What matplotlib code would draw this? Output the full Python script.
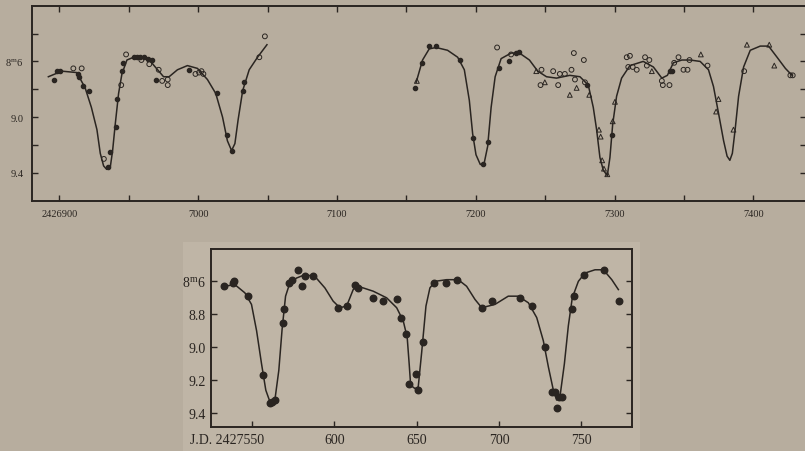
import matplotlib
matplotlib.use("Agg")
import matplotlib.pyplot as plt
from matplotlib.patches import Rectangle
from matplotlib.transforms import ScaledTranslation

plt.rcParams['font.family'] = ['Liberation Serif', 'DejaVu Serif']
plt.rcParams['mathtext.fontset'] = 'custom'
plt.rcParams['mathtext.rm'] = 'Liberation Serif'

# ---------------- top panel data (J.D. 2426000 + ...) ----------------
top_curve1_x = [6892, 6901.7, 6912.5, 6918.5, 6923, 6927, 6929.4, 6931.8, 6934, 6936.6,
                6938.3, 6940.2, 6942.6, 6945, 6948.6, 6953.4, 6964, 6969, 6975, 6979,
                6985, 6992.2, 6999.4, 7006.6, 7012.6, 7017.5, 7021, 7024, 7026.4, 7028.7,
                7032, 7036.7, 7042.7, 7049.5]
top_curve1_y = [8.71, 8.67, 8.68, 8.79, 8.93, 9.09, 9.26, 9.35, 9.375, 9.36,
                9.24, 9.05, 8.83, 8.69, 8.59, 8.57, 8.58, 8.64, 8.71, 8.71,
                8.66, 8.63, 8.65, 8.73, 8.83, 9.00, 9.17, 9.24, 9.19, 9.02,
                8.81, 8.66, 8.57, 8.48]

top_curve2_x = [7157, 7161.6, 7166.4, 7171.3, 7179.6, 7186.9, 7191.7, 7195.3, 7197.7, 7200.1,
                7203.2, 7206, 7208.5, 7211, 7213.9, 7218.2, 7225.4, 7231.4, 7238.6, 7244.6,
                7250.9, 7258.1, 7267.7, 7275, 7281, 7284.6, 7287, 7289.4, 7291.8, 7294.7,
                7296.6, 7298.6, 7301.4, 7305, 7311, 7320.6, 7327.9, 7334, 7338, 7342.3,
                7348.4, 7354.4, 7361.6, 7367.6, 7371.2, 7374.8, 7378.5, 7381, 7383, 7384.8,
                7386.8, 7389.3, 7392.9, 7397.7, 7404.9, 7410.9, 7417, 7423, 7427.8]
top_curve2_y = [8.75, 8.59, 8.51, 8.50, 8.52, 8.57, 8.66, 8.88, 9.12, 9.27,
                9.34, 9.33, 9.21, 8.93, 8.71, 8.58, 8.54, 8.54, 8.59, 8.67,
                8.71, 8.72, 8.70, 8.71, 8.77, 8.93, 9.09, 9.29, 9.38, 9.42,
                9.29, 9.05, 8.85, 8.72, 8.63, 8.60, 8.64, 8.72, 8.70, 8.61,
                8.59, 8.59, 8.60, 8.66, 8.78, 8.97, 9.17, 9.28, 9.31, 9.26,
                9.09, 8.85, 8.64, 8.52, 8.49, 8.49, 8.57, 8.65, 8.70]

top_dot_x = [6896.4, 6898, 6900.5, 6913, 6914, 6917, 6921, 6935, 6936.6, 6940.7,
             6941.4, 6945, 6946, 6953.4, 6955.8, 6958.2, 6960.6, 6964, 6966.6, 6969.5,
             6993.4, 7013.4, 7020.6, 7024.2, 7032, 7033,
             7155.8, 7161, 7166.4, 7171.3, 7188.6, 7197.7, 7205, 7209, 7216.5, 7223.7,
             7229, 7231.4, 7279.8, 7297.8, 7340, 7341.2]
top_dot_y = [8.73, 8.67, 8.67, 8.69, 8.71, 8.78, 8.81, 9.36, 9.25, 9.07,
             8.87, 8.67, 8.61, 8.57, 8.57, 8.57, 8.57, 8.58, 8.59, 8.73,
             8.66, 8.83, 9.13, 9.24, 8.81, 8.75,
             8.79, 8.61, 8.49, 8.49, 8.59, 9.15, 9.34, 9.18, 8.65, 8.60,
             8.54, 8.53, 8.77, 9.13, 8.67, 8.67]

top_open_x = [6910, 6916, 6932, 6944.5, 6948, 6959, 6964.7, 6971.5, 6974, 6978,
              6978, 6998, 7000.6, 7002.3, 7003.7, 7044, 7048,
              7215.3, 7225.4, 7247.3, 7246.6, 7255.7, 7259.3, 7260.5, 7264.1, 7268.9,
              7270.6, 7277.8, 7271.4, 7278.6, 7308.7, 7311, 7309.8, 7313, 7315.9,
              7321.9, 7325, 7323.2, 7334, 7334.7, 7339.5, 7342.9, 7346, 7349.6,
              7352.5, 7353.9, 7366.9, 7393.3, 7426.6, 7428.3]
top_open_y = [8.65, 8.65, 9.30, 8.77, 8.55, 8.59, 8.62, 8.66, 8.74, 8.73,
              8.77, 8.69, 8.68, 8.67, 8.69, 8.57, 8.42,
              8.50, 8.55, 8.66, 8.77, 8.67, 8.77, 8.69, 8.69, 8.66,
              8.54, 8.59, 8.73, 8.75, 8.57, 8.56, 8.64, 8.64, 8.66,
              8.57, 8.59, 8.63, 8.74, 8.77, 8.77, 8.61, 8.57, 8.66,
              8.66, 8.59, 8.63, 8.67, 8.70, 8.70]

top_tri_x = [7157.5, 7243.5, 7249.7, 7267.7, 7272.6, 7281.7, 7288.7, 7289.9, 7291, 7292.3,
             7294.7, 7298.6, 7300.2, 7326.8, 7362.1, 7374.8, 7373.1, 7385.6, 7395.3, 7411.4,
             7415]
top_tri_y = [8.74, 8.67, 8.75, 8.84, 8.79, 8.84, 9.09, 9.14, 9.31, 9.37,
             9.41, 9.03, 8.89, 8.67, 8.55, 8.87, 8.96, 9.09, 8.48, 8.48,
             8.63]

top_xticks = [6900, 7000, 7100, 7200, 7300, 7400]
top_xticklabels = ['2426900', '7000', '7100', '7200', '7300', '7400']
top_yticks = [8.6, 9.0, 9.4]
top_yticklabels = [r'8$^{\rm m}$6', '9.0', '9.4']

# ---------------- bottom panel data (J.D. 2427000 + ...) ----------------
bot_x = [533, 538.1, 539, 547.2, 556.7, 560.8, 562.2, 563.8, 568.5, 569.3,
         572.3, 574, 577.6, 580.4, 582, 587.1, 602.3, 607.4, 612.4, 614.4,
         623.2, 629.3, 638.1, 640.4, 643.4, 645.4, 649.5, 650.5, 653.6, 660.6,
         667.6, 674.3, 689.5, 695.5, 712.7, 719.8, 728, 732, 734, 735,
         736.4, 738.5, 744.5, 745.7, 751.8, 763.8, 772.9]
bot_y = [8.63, 8.61, 8.60, 8.69, 9.17, 9.34, 9.33, 9.32, 8.85, 8.77,
         8.61, 8.59, 8.53, 8.63, 8.57, 8.57, 8.76, 8.75, 8.62, 8.64,
         8.70, 8.72, 8.71, 8.82, 8.92, 9.22, 9.16, 9.26, 8.97, 8.61,
         8.61, 8.59, 8.76, 8.72, 8.70, 8.75, 9.00, 9.27, 9.27, 9.37,
         9.30, 9.30, 8.77, 8.69, 8.56, 8.53, 8.72]

bot_curve_x = [533, 539.5, 545.6, 549.6, 552.7, 555.7, 558.3, 560.8, 563.8, 566.2,
               568.2, 570.3, 572.9, 577, 582, 588.1, 594.2, 599.2, 603.3, 607.4,
               611.4, 614.4, 623.6, 631.7, 637.8, 641.8, 644.2, 645.4, 646.3, 648.9,
               650.9, 653, 655.6, 658, 661.1, 668.2, 675.2, 680.3, 685.4, 689.5,
               697.5, 705.6, 711.7, 717.8, 722.9, 726.9, 730, 733, 735, 737,
               739.7, 742.1, 744.5, 748.2, 752.2, 758.3, 763.4, 768.5, 772.5]
bot_curve_y = [8.63, 8.62, 8.67, 8.74, 8.90, 9.10, 9.26, 9.33, 9.32, 9.14,
               8.89, 8.69, 8.61, 8.58, 8.56, 8.57, 8.64, 8.72, 8.76, 8.75,
               8.65, 8.63, 8.66, 8.70, 8.76, 8.84, 8.94, 9.10, 9.23, 9.25,
               9.24, 9.03, 8.75, 8.64, 8.60, 8.59, 8.59, 8.63, 8.71, 8.76,
               8.74, 8.69, 8.69, 8.73, 8.82, 8.96, 9.12, 9.26, 9.32, 9.30,
               9.10, 8.87, 8.70, 8.60, 8.55, 8.53, 8.53, 8.59, 8.65]

bot_xticks = [550, 600, 650, 700, 750]
bot_xticklabels = ['J.D. 2427550', '600', '650', '700', '750']
bot_yticks = [8.6, 8.8, 9.0, 9.2, 9.4]
bot_yticklabels = [r'8$^{\rm m}$6', '8.8', '9.0', '9.2', '9.4']

INK = '#2a2521'
BG = '#b7ad9e'
BG2 = '#bfb5a6'

fig = plt.figure(figsize=(8.05, 4.52), dpi=100)
fig.patch.set_facecolor(BG)
fig.patches.append(Rectangle((183 / 805, 0), (640 - 183) / 805, 1 - 243 / 452,
                             transform=fig.transFigure, facecolor=BG2,
                             edgecolor='none', zorder=-5))

# ---- top axes ----
ax1 = fig.add_axes([31.7 / 805, 1 - 201.7 / 452, (805.5 - 31.7) / 805, (201.7 - 6.7) / 452])
ax1.set_facecolor(BG)
ax1.plot(top_curve1_x, top_curve1_y, color=INK, lw=1.1, zorder=2)
ax1.plot(top_curve2_x, top_curve2_y, color=INK, lw=1.1, zorder=2)
ax1.scatter(top_dot_x, top_dot_y, s=9, color=INK, zorder=3)
ax1.scatter(top_open_x, top_open_y, s=12, facecolors='none', edgecolors=INK,
            linewidths=0.7, zorder=3)
ax1.scatter(top_tri_x, top_tri_y, s=12, marker='^', facecolors='none', edgecolors=INK,
            linewidths=0.7, zorder=3)
ax1.set_xlim(6880, 7437.5)
ax1.set_ylim(9.6, 8.2)
ax1.set_xticks(list(range(6900, 7450, 50)), minor=True)
ax1.set_xticks(top_xticks)
ax1.set_xticklabels(top_xticklabels, fontsize=7.5)
ax1.set_yticks([8.4, 8.6, 8.8, 9.0, 9.2, 9.4], minor=True)
ax1.set_yticks(top_yticks)
ax1.set_yticklabels(top_yticklabels, fontsize=7.5)
for which in ('major', 'minor'):
    ax1.tick_params(which=which, direction='in', length=4, width=1.0, color=INK,
                    top=True, right=True, labelcolor=INK, pad=6)
for sp in ax1.spines.values():
    sp.set_color(INK)
    sp.set_linewidth(1.4)

# ---- bottom axes ----
ax2 = fig.add_axes([211 / 805, 1 - 428.3 / 452, (631.7 - 211) / 805, (428.3 - 250) / 452])
ax2.set_zorder(2)
ax2.set_facecolor(BG2)
ax2.plot(bot_curve_x, bot_curve_y, color=INK, lw=1.1, zorder=2)
ax2.scatter(bot_x, bot_y, s=22, color=INK, zorder=3)
ax2.set_xlim(525, 780.6)
ax2.set_ylim(9.485, 8.404)
ax2.set_xticks(bot_xticks)
ax2.set_xticklabels(bot_xticklabels, fontsize=10)
ax2.set_yticks(bot_yticks)
ax2.set_yticklabels(bot_yticklabels, fontsize=10)
ax2.tick_params(direction='in', length=4, width=1.0, color=INK, right=True,
                labelcolor=INK, pad=4)
lab0 = ax2.get_xticklabels()[0]
lab0.set_ha('right')
lab0.set_transform(lab0.get_transform() + ScaledTranslation(0.12, 0, fig.dpi_scale_trans))
for sp in ax2.spines.values():
    sp.set_color(INK)
    sp.set_linewidth(1.4)

fig.savefig('out.png', dpi=100, facecolor=fig.get_facecolor())
